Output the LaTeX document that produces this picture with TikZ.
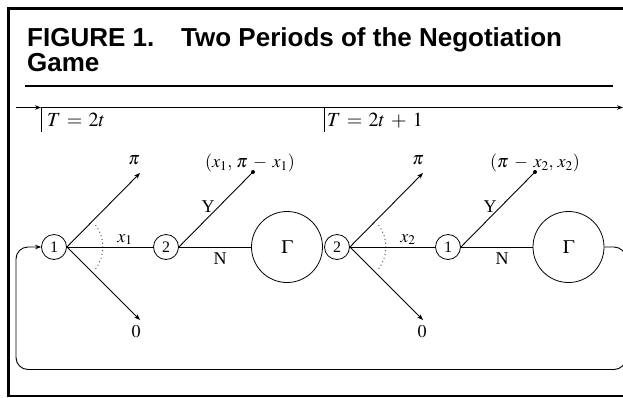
\documentclass[tikz,border=0pt]{standalone}
\usepackage{mathptmx}
\usepackage{fontspec}
\setmainfont{Liberation Serif}
\newfontfamily\titlefont{Liberation Sans}
\usetikzlibrary{arrows.meta}
\medmuskip=5.5mu plus 2mu minus 1mu
\thickmuskip=5.5mu plus 3mu
\tikzset{
  ttl/.style={font=\titlefont\bfseries\fontsize{26}{26}\selectfont, inner sep=0pt, anchor=base west},
  tlab/.style={font=\fontsize{20}{20}\selectfont, inner sep=0pt, anchor=base west},
  lab/.style={font=\fontsize{18}{18}\selectfont, inner sep=0pt, anchor=base},
  pl/.style={circle, draw, line width=0.8pt, minimum size=25pt, inner sep=0pt, font=\fontsize{16}{16}\selectfont},
  big/.style={circle, draw, line width=0.8pt, minimum size=71pt, inner sep=0pt, font=\fontsize{19}{19}\selectfont},
  edge/.style={line width=0.9pt},
  arr/.style={edge, -{Stealth[length=6pt,width=4.5pt]}},
  enddot/.style={circle, fill, inner sep=0pt, minimum size=4pt},
  arcdots/.style={line width=0.8pt, dash pattern=on 0.8pt off 3pt},
}
\begin{document}
\begin{tikzpicture}[x=1pt,y=-1pt]
\useasboundingbox (0,0) rectangle (623,397);
% frame
\draw[line width=2.5pt] (640,8.5) -| (8.5,396) -- (640,396);
% title
\node[ttl] (title1) at (27,46) {FIGURE 1.};
\node[ttl] (title2) at (181,46) {Two Periods of the Negotiation};
\node[ttl] (title3) at (27,71.5) {Game};
\draw[line width=2.3pt] (25,86) -- (613,86);
% timeline
\coordinate (tl0) at (16,107.5);
\coordinate (tlA) at (41,107.5);
\coordinate (tlB) at (324,107.5);
\coordinate (tlE) at (623,107.5);
\draw[arr] (tl0) -- (tlA);
\draw[arr] (tlA) -- (tlE);
\draw[edge] (tlA) -- ++(0,24.5);
\draw[edge] (tlB) -- ++(0,24.5);
\node[tlab] (T1) at (47,126.5) {$T = 2t$};
\node[tlab] (T2) at (327,126.5) {$T = 2t + 1$};
% period 1
\node[pl] (n1) at (54,247) {1};
\node[pl] (n2) at (166,247) {2};
\node[big] (G1) at (287,247) {$\Gamma$};
\coordinate (pi1) at (140,173);
\coordinate (z1) at (140,320);
\node[enddot] (d1) at (253,172) {};
\draw[arr] (n1.east) -- (pi1);
\draw[arr] (n1.east) -- (z1);
\draw[edge] (n1.east) -- (n2.west);
\draw[edge] (n2.east) -- (d1.center);
\draw[edge] (n2.east) -- (G1.west);
\draw[arcdots] (n1.east) ++(-37:36) arc[start angle=-37, end angle=37, radius=36];
\node[lab] (lpi1) at (134,164) {$\pi$};
\node[lab] (lz1) at (136,337) {$0$};
\node[lab] (lx1) at (125,242) {$x_1$};
\node[lab] (ly1) at (208,212.5) {Y};
\node[lab] (ln1) at (220,264) {N};
\node[lab, anchor=base west] (lo1) at (205,167.5) {$(x_1,\, \pi - x_1)$};
% period 2
\node[pl] (m2) at (337,247) {2};
\node[pl] (m1) at (448,247) {1};
\node[big] (G2) at (568.5,247) {$\Gamma$};
\coordinate (pi2) at (423,173);
\coordinate (z2) at (423,320);
\node[enddot] (d2) at (535,172) {};
\draw[arr] (m2.east) -- (pi2);
\draw[arr] (m2.east) -- (z2);
\draw[edge] (m2.east) -- (m1.west);
\draw[edge] (m1.east) -- (d2.center);
\draw[edge] (m1.east) -- (G2.west);
\draw[arcdots] (m2.east) ++(-37:36) arc[start angle=-37, end angle=37, radius=36];
\node[lab] (lpi2) at (418,164) {$\pi$};
\node[lab] (lz2) at (422,337) {$0$};
\node[lab] (lx2) at (408,242) {$x_2$};
\node[lab] (ly2) at (490,212.5) {Y};
\node[lab] (ln2) at (502,264) {N};
\node[lab, anchor=base west] (lo2) at (490,167.5) {$(\pi - x_2,\, x_2)$};
% loop back
\draw[arr, rounded corners=12pt] (G2.east) -- (626,247) -- (626,369.5) -- (16,369.5) -- (16,247) -- (n1.west);
\end{tikzpicture}
\end{document}
